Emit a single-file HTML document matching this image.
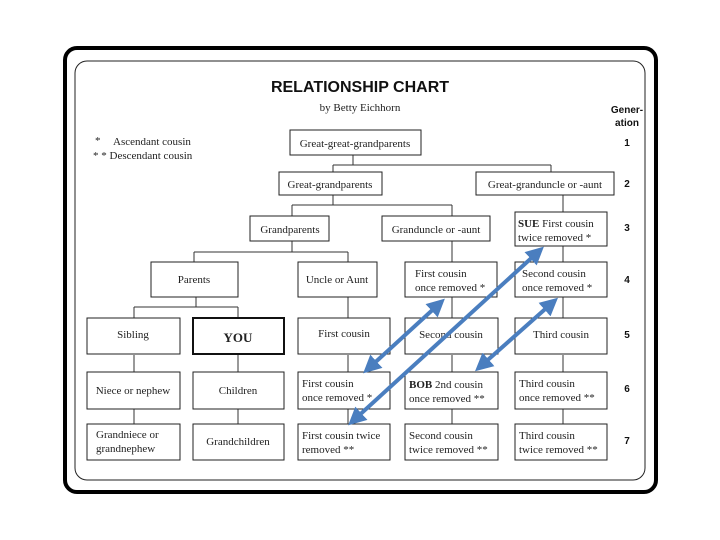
<!DOCTYPE html>
<html><head><meta charset="utf-8"><style>
html,body{margin:0;padding:0;background:#fff;width:720px;height:540px;overflow:hidden}
svg{display:block}
.b{fill:#fff;stroke:#222;stroke-width:1}
.t{font-family:"Liberation Serif",serif;font-size:11px;fill:#222}
.g{font-family:"Liberation Sans",sans-serif;font-size:10px;font-weight:bold;fill:#111}
.l{stroke:#333;stroke-width:1;fill:none}
</style></head><body>
<svg width="720" height="540" viewBox="0 0 720 540">
<rect x="65" y="48" width="591" height="444" rx="12" fill="#fff" stroke="#000" stroke-width="4"/>
<rect x="75" y="61" width="570" height="419" rx="12" fill="#fff" stroke="#222" stroke-width="1"/>
<text x="360" y="92" text-anchor="middle" font-family="Liberation Sans,sans-serif" font-weight="bold" font-size="16" fill="#111">RELATIONSHIP CHART</text>
<text x="360" y="111" text-anchor="middle" class="t">by Betty Eichhorn</text>
<text x="627" y="113" text-anchor="middle" class="g">Gener-</text>
<text x="627" y="126" text-anchor="middle" class="g">ation</text>
<text x="95" y="144" class="t">*</text><text x="113" y="145" class="t">Ascendant cousin</text>
<text x="93" y="159" class="t">* * Descendant cousin</text>
<g class="g" text-anchor="middle">
<text x="627" y="146">1</text><text x="627" y="187">2</text><text x="627" y="231">3</text><text x="627" y="283">4</text><text x="627" y="338">5</text><text x="627" y="392">6</text><text x="627" y="444">7</text>
</g>
<path class="l" d="M353 155V165M333 165H551M333 165V172M551 165V172
M333 195V205M292 205H452M292 205V216M452 205V216M563 195V212
M292 241V252M194 252H348M194 252V262M348 252V262
M452 241V262M563 246V262
M196 297V307M134 307H238M134 307V318M238 307V318
M348 297V318M452 297V318M563 297V318
M134 355V372M238 355V372M348 355V372M452 355V372M563 355V372
M134 409V424M238 409V424M348 409V424M452 409V424M563 409V424"/>
<rect class="b" x="290" y="130" width="131" height="25"/>
<rect class="b" x="279" y="172" width="103" height="23"/>
<rect class="b" x="476" y="172" width="138" height="23"/>
<rect class="b" x="250" y="216" width="79" height="25"/>
<rect class="b" x="382" y="216" width="108" height="25"/>
<rect class="b" x="515" y="212" width="92" height="34"/>
<rect class="b" x="151" y="262" width="87" height="35"/>
<rect class="b" x="298" y="262" width="79" height="35"/>
<rect class="b" x="405" y="262" width="92" height="35"/>
<rect class="b" x="515" y="262" width="92" height="35"/>
<rect class="b" x="87" y="318" width="93" height="36"/>
<rect x="193" y="318" width="91" height="36" fill="#fff" stroke="#111" stroke-width="2"/>
<rect class="b" x="298" y="318" width="92" height="36"/>
<rect class="b" x="405" y="318" width="93" height="36"/>
<rect class="b" x="515" y="318" width="92" height="36"/>
<rect class="b" x="87" y="372" width="93" height="37"/>
<rect class="b" x="193" y="372" width="91" height="37"/>
<rect class="b" x="298" y="372" width="92" height="37"/>
<rect class="b" x="405" y="372" width="93" height="37"/>
<rect class="b" x="515" y="372" width="92" height="37"/>
<rect class="b" x="87" y="424" width="93" height="36"/>
<rect class="b" x="193" y="424" width="91" height="36"/>
<rect class="b" x="298" y="424" width="92" height="36"/>
<rect class="b" x="405" y="424" width="93" height="36"/>
<rect class="b" x="515" y="424" width="92" height="36"/>
<g class="t">
<text x="355" y="147" text-anchor="middle">Great-great-grandparents</text>
<text x="330" y="188" text-anchor="middle">Great-grandparents</text>
<text x="545" y="188" text-anchor="middle">Great-granduncle or -aunt</text>
<text x="290" y="233" text-anchor="middle">Grandparents</text>
<text x="436" y="233" text-anchor="middle">Granduncle or -aunt</text>
<text x="518" y="227"><tspan font-weight="bold">SUE</tspan>  First cousin</text>
<text x="518" y="241">twice removed *</text>
<text x="194" y="283" text-anchor="middle">Parents</text>
<text x="337" y="283" text-anchor="middle">Uncle or Aunt</text>
<text x="415" y="277">First cousin</text><text x="415" y="291">once removed *</text>
<text x="522" y="277">Second cousin</text><text x="522" y="291">once removed *</text>
<text x="133" y="338" text-anchor="middle">Sibling</text>
<text x="238" y="342" text-anchor="middle" font-weight="bold" font-size="13">YOU</text>
<text x="344" y="337" text-anchor="middle">First cousin</text>
<text x="451" y="338" text-anchor="middle">Second cousin</text>
<text x="561" y="338" text-anchor="middle">Third cousin</text>
<text x="133" y="394" text-anchor="middle">Niece or nephew</text>
<text x="238" y="394" text-anchor="middle">Children</text>
<text x="302" y="387">First cousin</text><text x="302" y="401">once removed *</text>
<text x="409" y="388"><tspan font-weight="bold">BOB</tspan>  2nd cousin</text><text x="409" y="402">once removed  **</text>
<text x="519" y="387">Third cousin</text><text x="519" y="401">once removed **</text>
<text x="96" y="438">Grandniece or</text><text x="96" y="452">grandnephew</text>
<text x="238" y="445" text-anchor="middle">Grandchildren</text>
<text x="302" y="439">First cousin twice</text><text x="302" y="453">removed **</text>
<text x="409" y="439">Second cousin</text><text x="409" y="453">twice removed **</text>
<text x="519" y="439">Third cousin</text><text x="519" y="453">twice removed **</text>
</g>
<defs>
<marker id="ah" markerWidth="4.5" markerHeight="4.5" refX="2.5" refY="2.25" orient="auto-start-reverse" markerUnits="strokeWidth">
<path d="M0,0L4.5,2.25L0,4.5z" fill="#4a7ebf"/>
</marker>
</defs>
<g stroke="#4a7ebf" stroke-width="4" marker-start="url(#ah)" marker-end="url(#ah)">
<line x1="439" y1="304" x2="369" y2="368"/>
<line x1="538" y1="252" x2="354" y2="420"/>
<line x1="552" y1="303" x2="481" y2="366"/>
</g>
</svg>
</body></html>
